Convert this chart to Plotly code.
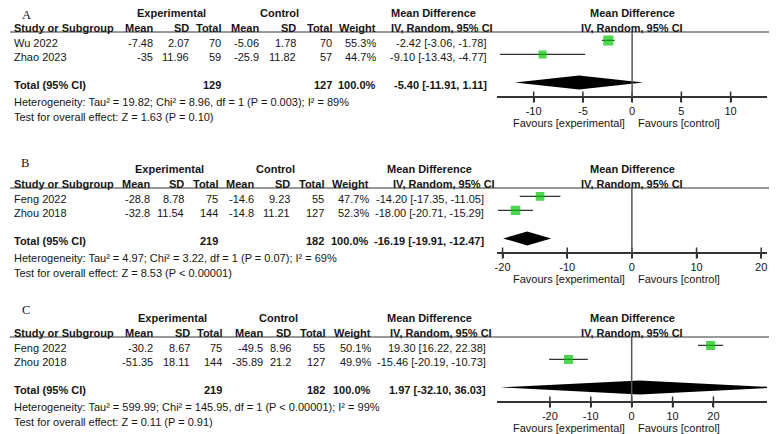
import plotly.graph_objects as go

# ---- data ----
# Panel A
a_study = ["Wu 2022", "Zhao 2023"]
a_exp_mean = [-7.48, -35]
a_exp_sd = [2.07, 11.96]
a_exp_n = [70, 59]
a_ctl_mean = [-5.06, -25.9]
a_ctl_sd = [1.78, 11.82]
a_ctl_n = [70, 57]
a_weight = [55.3, 44.7]
a_md = [-2.42, -9.10]
a_lo = [-3.06, -13.43]
a_hi = [-1.78, -4.77]
a_total = [129, 127, -5.40, -11.91, 1.11]
a_het = "Heterogeneity: Tau² = 19.82; Chi² = 8.96, df = 1 (P = 0.003); I² = 89%"
a_test = "Test for overall effect: Z = 1.63 (P = 0.10)"
a_ticks = [-10, -5, 0, 5, 10]

# Panel B
b_study = ["Feng 2022", "Zhou 2018"]
b_exp_mean = [-28.8, -32.8]
b_exp_sd = [8.78, 11.54]
b_exp_n = [75, 144]
b_ctl_mean = [-14.6, -14.8]
b_ctl_sd = [9.23, 11.21]
b_ctl_n = [55, 127]
b_weight = [47.7, 52.3]
b_md = [-14.20, -18.00]
b_lo = [-17.35, -20.71]
b_hi = [-11.05, -15.29]
b_total = [219, 182, -16.19, -19.91, -12.47]
b_het = "Heterogeneity: Tau² = 4.97; Chi² = 3.22, df = 1 (P = 0.07); I² = 69%"
b_test = "Test for overall effect: Z = 8.53 (P < 0.00001)"
b_ticks = [-20, -10, 0, 10, 20]

# Panel C
c_study = ["Feng 2022", "Zhou 2018"]
c_exp_mean = [-30.2, -51.35]
c_exp_sd = [8.67, 18.11]
c_exp_n = [75, 144]
c_ctl_mean = [-49.5, -35.89]
c_ctl_sd = [8.96, 21.2]
c_ctl_n = [55, 127]
c_weight = [50.1, 49.9]
c_md = [19.30, -15.46]
c_lo = [16.22, -20.19]
c_hi = [22.38, -10.73]
c_total = [219, 182, 1.97, -32.10, 36.03]
c_het = "Heterogeneity: Tau² = 599.99; Chi² = 145.95, df = 1 (P < 0.00001); I² = 99%"
c_test = "Test for overall effect: Z = 0.11 (P = 0.91)"
c_ticks = [-20, -10, 0, 10, 20]

# ---- look ----
OFF = 8                      # the page body adds an 8px margin
FW, FH = 777 - OFF, 434 - OFF
ROW = 14                     # px per table row
SANS = "Liberation Sans, Arial, sans-serif"
SERIF = "Liberation Serif, Times New Roman, serif"
INK = "#151515"
LINE = "#333333"
GREEN = "#00c800"
X0, X1 = 496, 767            # forest plot horizontal extent (page px)


def fx(px):
    return (px - OFF) / FW


def fy(py):
    return 1 - (py - OFF) / FH


panels = [
    dict(letter="A", study=a_study, em=a_exp_mean, esd=a_exp_sd, en=a_exp_n,
         cm=a_ctl_mean, csd=a_ctl_sd, cn=a_ctl_n, w=a_weight, md=a_md, lo=a_lo, hi=a_hi,
         tot=a_total, het=a_het, test=a_test, ticks=a_ticks, xr=[-13.75, 13.7],
         top=8, bot=140, T=32, cols=[153, 189, 222, 260, 297, 333, 377], mdr=488,
         expc=170, ctlc=278, mdhc=433, ivc=441, lx=25, lrow=-0.85),
    dict(letter="B", study=b_study, em=b_exp_mean, esd=b_exp_sd, en=b_exp_n,
         cm=b_ctl_mean, csd=b_ctl_sd, cn=b_ctl_n, w=b_weight, md=b_md, lo=b_lo, hi=b_hi,
         tot=b_total, het=b_het, test=b_test, ticks=b_ticks, xr=[-20.9, 20.9],
         top=140, bot=290, T=188, cols=[150, 184, 219, 255, 291, 325, 370], mdr=485,
         expc=168, ctlc=274, mdhc=429, ivc=443, lx=23, lrow=-1.4),
    dict(letter="C", study=c_study, em=c_exp_mean, esd=c_exp_sd, en=c_exp_n,
         cm=c_ctl_mean, csd=c_ctl_sd, cn=c_ctl_n, w=c_weight, md=c_md, lo=c_lo, hi=c_hi,
         tot=c_total, het=c_het, test=c_test, ticks=c_ticks, xr=[-33.0, 33.1],
         top=290, bot=434, T=337, cols=[153, 190, 223, 264, 292, 326, 372], mdr=487,
         expc=170.5, ctlc=277, mdhc=429, ivc=440, lx=24, lrow=-1.5),
]

fig = go.Figure()
annotations = []
shapes = []
layout = {}
AX_ROW = 0.4 + 4.65          # row position of the x-axis line

for i, p in enumerate(panels):
    n = i + 1
    sfx = "" if n == 1 else str(n)
    xa, ya = "x" + sfx, "y" + sfx
    T = p["T"]
    # row units -> page px: px = T + (row - 0.4) * ROW
    r_top = 0.4 - (T - p["top"]) / ROW
    r_bot = 0.4 + (p["bot"] - T) / ROW
    axis_px = T + (AX_ROW - 0.4) * ROW

    layout["yaxis" + sfx] = dict(
        domain=[fy(p["bot"]), fy(p["top"])], range=[r_bot, r_top],
        visible=False, fixedrange=True)
    layout["xaxis" + sfx] = dict(
        domain=[fx(X0), fx(X1)], range=p["xr"], anchor="free", position=fy(axis_px),
        showline=True, linecolor=LINE, linewidth=1.5, ticks="outside", ticklen=4,
        tickwidth=1.5, tickcolor=LINE, tickvals=p["ticks"],
        ticktext=[str(t) for t in p["ticks"]], showgrid=False, zeroline=False,
        tickfont=dict(family=SANS, size=11, color=INK), fixedrange=True)

    # tick marks crossing the axis line
    fig.add_trace(go.Scatter(
        x=p["ticks"], y=[AX_ROW] * len(p["ticks"]), xaxis=xa, yaxis=ya, mode="markers",
        marker=dict(symbol="line-ns", size=8, line=dict(width=1.5, color=LINE)),
        hoverinfo="skip", showlegend=False, cliponaxis=False))

    rows = [1, 2]
    # study squares with CI whiskers
    fig.add_trace(go.Scatter(
        x=p["md"], y=rows, xaxis=xa, yaxis=ya, mode="markers", showlegend=False,
        marker=dict(symbol="square", size=[w * 0.18 for w in p["w"]], color=GREEN,
                    line=dict(width=0)),
        error_x=dict(type="data", symmetric=False,
                     array=[h - m for h, m in zip(p["hi"], p["md"])],
                     arrayminus=[m - l for m, l in zip(p["md"], p["lo"])],
                     color=LINE, thickness=1.3, width=0)))
    # pooled diamond
    tm, tl, th = p["tot"][2], p["tot"][3], p["tot"][4]
    fig.add_trace(go.Scatter(
        x=[tl, tm, th, tm, tl], y=[4, 3.5, 4, 4.5, 4], xaxis=xa, yaxis=ya, mode="lines",
        fill="toself", fillcolor="black", line=dict(width=0, color="black"),
        showlegend=False, hoverinfo="skip"))

    # header underline and zero line
    shapes.append(dict(type="line", xref="paper", yref=ya, x0=0, x1=1, y0=0.4, y1=0.4,
                       line=dict(color=LINE, width=1)))
    shapes.append(dict(type="line", xref=xa, yref=ya, x0=0, x1=0, y0=0.4, y1=AX_ROW,
                       line=dict(color="#555555", width=1.5)))

    def txt(s, xpx, row, anchor="right", bold=False, size=11, fam=SANS):
        annotations.append(dict(
            text=f"<b>{s}</b>" if bold else s, x=fx(xpx), xref="paper", y=row, yref=ya,
            xanchor=anchor, yanchor="middle", showarrow=False,
            font=dict(family=fam, size=size, color=INK)))

    txt(p["letter"], p["lx"], p["lrow"], anchor="center", size=12.5, fam=SERIF)
    h1, h2 = -0.95, 0.12
    txt("Experimental", p["expc"], h1, "center", True)
    txt("Control", p["ctlc"], h1, "center", True)
    txt("Mean Difference", p["mdhc"], h1, "center", True)
    txt("Mean Difference", 632, h1, "center", True)
    txt("Study or Subgroup", 10, h2, "left", True)
    heads = ["Mean", "SD", "Total", "Mean", "SD", "Total", "Weight"]
    for hd, cx in zip(heads, p["cols"]):
        txt(hd, cx, h2, "right", True)
    txt("IV, Random, 95% CI", p["ivc"], h2, "center", True)
    txt("IV, Random, 95% CI", 632, h2, "center", True)

    for k, r in enumerate(rows):
        ry = r + 0.2
        txt(p["study"][k], 10, ry, "left")
        vals = [p["em"][k], p["esd"][k], p["en"][k], p["cm"][k], p["csd"][k], p["cn"][k]]
        for v, cx in zip(vals, p["cols"][:6]):
            txt(str(v), cx, ry)
        txt(f"{p['w'][k]:.1f}%", p["cols"][6], ry)
        txt(f"{p['md'][k]:.2f} [{p['lo'][k]:.2f}, {p['hi'][k]:.2f}]", p["mdr"], ry)

    ry = 4.22
    txt("Total (95% CI)", 10, ry, "left", True)
    txt(str(p["tot"][0]), p["cols"][2], ry, bold=True)
    txt(str(p["tot"][1]), p["cols"][5], ry, bold=True)
    txt(f"{sum(p['w']):.1f}%", p["cols"][6], ry, bold=True)
    txt(f"{tm:.2f} [{tl:.2f}, {th:.2f}]", p["mdr"], ry, bold=True)
    txt(p["het"], 10, 5.38, "left")
    txt(p["test"], 10, 6.47, "left")
    txt("Favours [experimental]", 627, 6.88, "right")
    txt("Favours [control]", 636, 6.88, "left")

fig.update_layout(
    width=FW, height=FH, margin=dict(l=0, r=0, t=0, b=0),
    paper_bgcolor="white", plot_bgcolor="white", showlegend=False,
    annotations=annotations, shapes=shapes, **layout)

fig.write_html("out.html")
